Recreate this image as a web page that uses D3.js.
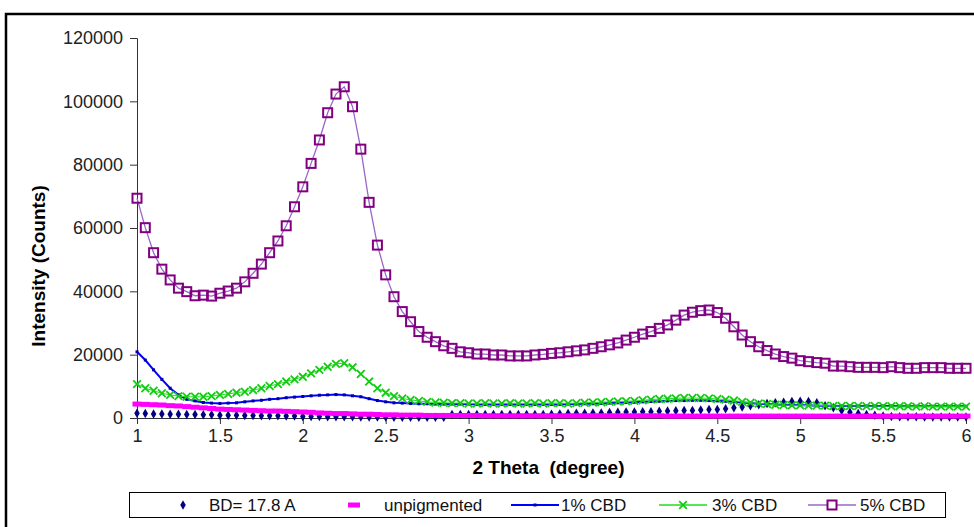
<!DOCTYPE html>
<html>
<head>
<meta charset="utf-8">
<script src="https://cdn.jsdelivr.net/npm/d3@7"></script>
<style>
  body { margin: 0; background: #fff; }
  text { font-family: "Liberation Sans", Arial, sans-serif; }
</style>
</head>
<body>
<div class="canvas"></div>
<script>
// 2 theta grid (degree)
const theta = [
  1.00, 1.05, 1.10, 1.15, 1.20, 1.25, 1.30, 1.35, 1.40, 1.45,
  1.50, 1.55, 1.60, 1.65, 1.70, 1.75, 1.80, 1.85, 1.90, 1.95,
  2.00, 2.05, 2.10, 2.15, 2.20, 2.25, 2.30, 2.35, 2.40, 2.45,
  2.50, 2.55, 2.60, 2.65, 2.70, 2.75, 2.80, 2.85, 2.90, 2.95,
  3.00, 3.05, 3.10, 3.15, 3.20, 3.25, 3.30, 3.35, 3.40, 3.45,
  3.50, 3.55, 3.60, 3.65, 3.70, 3.75, 3.80, 3.85, 3.90, 3.95,
  4.00, 4.05, 4.10, 4.15, 4.20, 4.25, 4.30, 4.35, 4.40, 4.45,
  4.50, 4.55, 4.60, 4.65, 4.70, 4.75, 4.80, 4.85, 4.90, 4.95,
  5.00, 5.05, 5.10, 5.15, 5.20, 5.25, 5.30, 5.35, 5.40, 5.45,
  5.50, 5.55, 5.60, 5.65, 5.70, 5.75, 5.80, 5.85, 5.90, 5.95, 6.00
];

// intensities (counts)
const bd178 = [
  1500, 1400, 1300, 1300, 1200, 1200, 1100, 1100, 1000, 1000,
  900, 900, 900, 800, 800, 700, 700, 700, 600, 600,
  500, 500, 500, 400, 400, 400, 400, 300, 300, 300,
  300, 200, 200, 200, 200, 200, 200, 200, 1100, 1100,
  1100, 1100, 1100, 1100, 1100, 1100, 1100, 1100, 1100, 1100,
  1200, 1300, 1400, 1500, 1500, 1600, 1600, 1700, 1800, 1900,
  1900, 2000, 2000, 2100, 2200, 2300, 2400, 2400, 2500, 2700,
  2700, 2900, 3200, 3500, 3900, 4200, 4600, 4800, 5000, 5200,
  5300, 5200, 4800, 3900, 3200, 2400, 1800, 1400, 1100, 900,
  600, 500, 400, 400, 400, 300, 300, 300, 300, 300, 300
];

const unpigmented = [
  4400, 4300, 4200, 4100, 3900, 3800, 3600, 3400, 3200, 3000,
  2800, 2700, 2600, 2500, 2400, 2300, 2200, 2200, 2100, 2000,
  1900, 1800, 1600, 1500, 1400, 1400, 1300, 1200, 1200, 1100,
  1000, 1000, 900, 900, 900, 800, 800, 800, 800, 800,
  800, 800, 700, 700, 700, 700, 700, 700, 700, 700,
  700, 700, 700, 700, 700, 700, 700, 700, 700, 700,
  700, 700, 700, 700, 600, 600, 600, 600, 600, 600,
  600, 600, 600, 600, 600, 600, 600, 600, 600, 600,
  600, 600, 600, 600, 600, 600, 600, 600, 600, 600,
  600, 600, 600, 600, 600, 600, 600, 600, 600, 600, 600
];

const cbd1 = [
  20900, 18300, 15200, 12200, 9400, 7300, 5900, 5400, 4900, 4700,
  4600, 4700, 4800, 5100, 5400, 5600, 5900, 6100, 6400, 6600,
  6800, 7000, 7200, 7300, 7400, 7300, 7000, 6700, 6100, 5500,
  5100, 4800, 4700, 4600, 4500, 4500, 4400, 4400, 4400, 4400,
  4400, 4300, 4300, 4300, 4300, 4300, 4300, 4300, 4300, 4300,
  4300, 4300, 4400, 4400, 4500, 4500, 4600, 4700, 4800, 4900,
  5000, 5100, 5200, 5300, 5400, 5500, 5500, 5600, 5600, 5500,
  5400, 5300, 5100, 4900, 4700, 4500, 4400, 4300, 4200, 4100,
  4000, 4000, 3900, 3900, 3900, 3800, 3800, 3800, 3800, 3800,
  3800, 3800, 3700, 3700, 3700, 3700, 3700, 3700, 3700, 3700, 3700
];

const cbd3 = [
  10700, 9400, 8600, 7800, 7300, 6900, 6700, 6700, 6700, 6900,
  7300, 7600, 8000, 8300, 8800, 9400, 10100, 10700, 11500, 12200,
  13000, 14100, 15200, 16200, 17100, 17300, 16000, 13900, 11500, 9400,
  8000, 6900, 6200, 5700, 5400, 5100, 4900, 4800, 4700, 4700,
  4600, 4600, 4700, 4600, 4600, 4700, 4600, 4600, 4700, 4600,
  4700, 4700, 4600, 4700, 4800, 4900, 5000, 5100, 5200, 5300,
  5400, 5600, 5800, 6000, 6100, 6200, 6300, 6300, 6300, 6200,
  6000, 5800, 5500, 5100, 4800, 4600, 4400, 4200, 4100, 4000,
  4000, 3900, 3900, 3900, 3800, 3800, 3800, 3800, 3700, 3800,
  3700, 3700, 3700, 3700, 3600, 3700, 3600, 3600, 3600, 3600, 3600
];

const cbd5 = [
  69400, 60100, 52200, 47000, 43600, 41000, 39900, 38600, 38800, 38500,
  39400, 40100, 41000, 43000, 45700, 48600, 52200, 55900, 60700, 66700,
  73000, 80400, 87800, 96400, 102300, 104600, 98300, 84900, 68100, 54600,
  45200, 38300, 33600, 30400, 27300, 25500, 24100, 22800, 22000, 20900,
  20600, 20200, 20200, 19900, 19900, 19600, 19600, 19600, 19900, 20100,
  20400, 20600, 20900, 21200, 21500, 22000, 22500, 23100, 23700, 24600,
  25500, 26500, 27300, 28300, 29400, 30900, 32500, 33400, 33900, 34100,
  33300, 31500, 28800, 26200, 24100, 22500, 21300, 20200, 19400, 18900,
  18100, 17800, 17500, 17300, 16400, 16400, 16200, 16000, 16000, 16000,
  15900, 16200, 15900, 15700, 15700, 15900, 15900, 15900, 15700, 15700, 15700
];

const seriesNames = ['BD= 17.8 A', 'unpigmented', '1% CBD', '3% CBD', '5% CBD'];
const xTicks = [1, 1.5, 2, 2.5, 3, 3.5, 4, 4.5, 5, 5.5, 6];
const yTicks = [0, 20000, 40000, 60000, 80000, 100000, 120000];

const width = 974, height = 527;
const margin = { top: 38, right: 8, bottom: 109, left: 137 };
const graphWidth = width - margin.left - margin.right;
const graphHeight = height - margin.top - margin.bottom;

const svg = d3.select('.canvas')
  .append('svg')
  .attr('width', width)
  .attr('height', height);

// outer frame (runs off the right and bottom of the picture)
svg.append('rect')
  .attr('x', 6).attr('y', 14)
  .attr('width', 990).attr('height', 540)
  .attr('fill', 'none')
  .attr('stroke', '#000')
  .attr('stroke-width', 2.5);

const graph = svg.append('g')
  .attr('transform', `translate(${margin.left}, ${margin.top})`);

const x = d3.scaleLinear().domain([1, 6]).range([0, graphWidth]);
const y = d3.scaleLinear().domain([0, 120000]).range([graphHeight, 0]);

// axes
const xAxis = d3.axisBottom(x).tickValues(xTicks).tickSize(6).tickPadding(5)
  .tickFormat(d => d3.format('')(d));
const yAxis = d3.axisLeft(y).tickValues(yTicks).tickSize(7).tickPadding(7)
  .tickFormat(d3.format('d'));

const xAxisGroup = graph.append('g')
  .attr('transform', `translate(0, ${graphHeight})`)
  .call(xAxis);
const yAxisGroup = graph.append('g').call(yAxis);

[xAxisGroup, yAxisGroup].forEach(g => {
  g.selectAll('path, line').attr('stroke', '#333');
  g.selectAll('text').attr('font-size', 18).attr('fill', '#222')
    .attr('font-family', '"Liberation Sans", Arial, sans-serif');
});

// axis titles
svg.append('text')
  .attr('x', margin.left + graphWidth / 2 - 3)
  .attr('y', 474)
  .attr('text-anchor', 'middle')
  .attr('font-size', 19).attr('font-weight', 'bold')
  .style('white-space', 'pre')
  .text('2 Theta  (degree)');

svg.append('text')
  .attr('transform', 'translate(45, 266) rotate(-90)')
  .attr('text-anchor', 'middle')
  .attr('font-size', 19).attr('font-weight', 'bold')
  .text('Intensity (Counts)');

// data rows
const rows = theta.map((t, i) => ({
  t, bd: bd178[i], un: unpigmented[i], c1: cbd1[i], c3: cbd3[i], c5: cbd5[i]
}));

const lineFor = key => d3.line().x(d => x(d.t)).y(d => y(d[key]));
const diamond = d3.symbol().type(d3.symbolDiamond).size(26);
const cross = d3.symbol().type(d3.symbolX).size(40);

// BD= 17.8 A: markers only
graph.append('g').selectAll('path')
  .data(rows).enter().append('path')
  .attr('d', diamond)
  .attr('transform', d => `translate(${x(d.t)}, ${y(d.bd)})`)
  .attr('fill', '#000080');

// unpigmented: dash markers
graph.append('g').selectAll('rect')
  .data(rows).enter().append('rect')
  .attr('x', d => x(d.t) - 4.5)
  .attr('y', d => y(d.un) - 2.5)
  .attr('width', 9).attr('height', 5)
  .attr('fill', '#ff00ff');

// 1% CBD
graph.append('path').datum(rows)
  .attr('d', lineFor('c1'))
  .attr('fill', 'none').attr('stroke', '#0000ff').attr('stroke-width', 2);
graph.append('g').selectAll('rect')
  .data(rows).enter().append('rect')
  .attr('x', d => x(d.t) - 1.5).attr('y', d => y(d.c1) - 1.5)
  .attr('width', 3).attr('height', 3)
  .attr('fill', '#0000aa');

// 3% CBD
graph.append('path').datum(rows)
  .attr('d', lineFor('c3'))
  .attr('fill', 'none').attr('stroke', '#22dd22').attr('stroke-width', 1);
graph.append('g').selectAll('path')
  .data(rows).enter().append('path')
  .attr('d', cross)
  .attr('transform', d => `translate(${x(d.t)}, ${y(d.c3)})`)
  .attr('fill', 'none')
  .attr('stroke', '#11cc11').attr('stroke-width', 1.8);

// 5% CBD
graph.append('path').datum(rows)
  .attr('d', lineFor('c5'))
  .attr('fill', 'none').attr('stroke', '#9a66c8').attr('stroke-width', 1.3);
graph.append('g').selectAll('rect')
  .data(rows).enter().append('rect')
  .attr('x', d => x(d.t) - 4.5).attr('y', d => y(d.c5) - 4.5)
  .attr('width', 9).attr('height', 9)
  .attr('fill', 'none')
  .attr('stroke', '#800080').attr('stroke-width', 2);

// legend
const legend = svg.append('g');
legend.append('rect')
  .attr('x', 129.5).attr('y', 492.5)
  .attr('width', 816).attr('height', 25)
  .attr('fill', '#fff').attr('stroke', '#000').attr('stroke-width', 1);

const legendY = 505;
const legendItems = [
  { name: seriesNames[0], sx: 183, tx: 209 },
  { name: seriesNames[1], sx: 354, tx: 384 },
  { name: seriesNames[2], sx: 535, tx: 561 },
  { name: seriesNames[3], sx: 683, tx: 712 },
  { name: seriesNames[4], sx: 832, tx: 860 }
];

legendItems.forEach((item, i) => {
  const g = legend.append('g');
  if (i === 0) {
    g.append('path').attr('d', diamond)
      .attr('transform', `translate(${item.sx}, ${legendY})`).attr('fill', '#000080');
  } else if (i === 1) {
    g.append('rect').attr('x', item.sx - 6).attr('y', legendY - 2.5)
      .attr('width', 12).attr('height', 5).attr('fill', '#ff00ff');
  } else {
    const colour = ['#0000ff', '#22dd22', '#9a66c8'][i - 2];
    g.append('line')
      .attr('x1', item.sx - 24).attr('x2', item.sx + 24)
      .attr('y1', legendY).attr('y2', legendY)
      .attr('stroke', colour).attr('stroke-width', i === 2 ? 2 : 1.3);
    if (i === 2) {
      g.append('rect').attr('x', item.sx - 1.5).attr('y', legendY - 1.5)
        .attr('width', 3).attr('height', 3).attr('fill', '#0000aa');
    } else if (i === 3) {
      g.append('path').attr('d', cross)
        .attr('transform', `translate(${item.sx}, ${legendY})`)
        .attr('fill', 'none').attr('stroke', '#11cc11').attr('stroke-width', 1.8);
    } else {
      g.append('rect').attr('x', item.sx - 4.5).attr('y', legendY - 4.5)
        .attr('width', 9).attr('height', 9).attr('fill', '#fff')
        .attr('stroke', '#800080').attr('stroke-width', 2);
    }
  }
  g.append('text')
    .attr('x', item.tx).attr('y', legendY + 6)
    .attr('font-size', 17).attr('fill', '#111')
    .text(item.name);
});
</script>
</body>
</html>
